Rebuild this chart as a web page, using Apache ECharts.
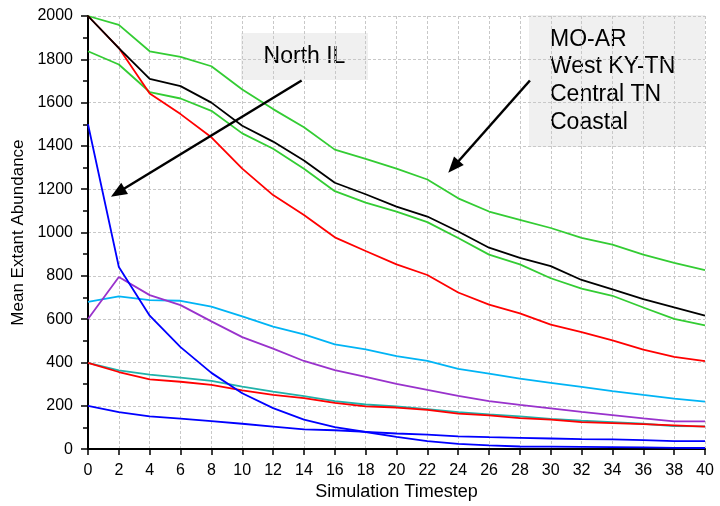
<!DOCTYPE html>
<html>
<head>
<meta charset="utf-8">
<title>Mean Extant Abundance</title>
<script src="https://cdn.jsdelivr.net/npm/echarts@6/dist/echarts.min.js"></script>
<style>
  html, body { margin: 0; padding: 0; background: #ffffff; }
  #chart { width: 720px; height: 506px; }
</style>
</head>
<body>
<div id="chart"></div>
<script>
// Simulation timesteps (x axis)
const timesteps = [0, 2, 4, 6, 8, 10, 12, 14, 16, 18, 20, 22, 24, 26, 28, 30, 32, 34, 36, 38, 40];

// Mean extant abundance per population trajectory
const greenHigh = [2000, 1959, 1837, 1811, 1768, 1661, 1570, 1486, 1383, 1340, 1295, 1245, 1158, 1097, 1059, 1021, 975, 944, 898, 860, 827];
const blackLine = [2000, 1852, 1710, 1676, 1600, 1493, 1420, 1333, 1230, 1177, 1120, 1074, 1005, 930, 883, 845, 781, 738, 693, 654, 616];
const greenLow  = [1837, 1776, 1649, 1619, 1562, 1458, 1387, 1295, 1191, 1138, 1097, 1048, 975, 898, 853, 789, 741, 708, 654, 601, 571];
const redHigh   = [2000, 1852, 1642, 1547, 1440, 1295, 1173, 1081, 978, 915, 853, 804, 723, 667, 627, 575, 540, 502, 459, 426, 406];
const cyanLine  = [680, 705, 688, 685, 658, 613, 566, 530, 484, 460, 429, 407, 370, 349, 325, 306, 287, 268, 250, 233, 219];
const purpleLine= [601, 795, 711, 665, 590, 517, 464, 407, 365, 333, 301, 273, 246, 222, 204, 188, 172, 157, 142, 128, 128];
const tealLine  = [398, 364, 344, 330, 315, 288, 265, 245, 222, 206, 197, 185, 171, 160, 151, 140, 131, 125, 117, 106, 105];
const redLow    = [398, 356, 322, 311, 297, 271, 250, 235, 213, 197, 192, 181, 164, 156, 143, 136, 125, 120, 115, 110, 104];
const blueFast  = [1500, 841, 616, 471, 352, 258, 189, 136, 101, 79, 56, 37, 24, 17, 12, 11, 10, 9, 8, 6, 5];
const blueSlow  = [200, 171, 151, 141, 129, 117, 104, 91, 87, 80, 72, 67, 59, 55, 52, 49, 46, 45, 41, 37, 37];

// Y axis tick values
const yTicks = [0, 200, 400, 600, 800, 1000, 1200, 1400, 1600, 1800, 2000];

// Callout texts and arrow endpoints (data coordinates: [timestep, abundance])
const calloutNorth = 'North IL';
const calloutSouth = ['MO-AR', 'West KY-TN', 'Central TN', 'Coastal'];
const arrowNorth = [[13.85, 1702], [1.93, 1185]];
const arrowSouth = [[28.65, 1702], [23.70, 1304]];

const FONT = '"Liberation Sans", Arial, sans-serif';

function pairs(values) {
  return timesteps.map((t, i) => [t, values[i]]);
}

function lineSeries(name, values, color) {
  return {
    name: name,
    type: 'line',
    data: pairs(values),
    showSymbol: false,
    symbol: 'none',
    animation: false,
    lineStyle: { color: color, width: 1.8 },
    itemStyle: { color: color },
    z: 3
  };
}

function arrowSeries(name, ends) {
  return {
    name: name,
    type: 'line',
    data: [],
    animation: false,
    markLine: {
      silent: true,
      animation: false,
      symbol: ['none', 'triangle'],
      symbolSize: [13, 16],
      label: { show: false },
      lineStyle: { color: '#000000', width: 2.5, type: 'solid' },
      emphasis: { disabled: true },
      data: [[{ coord: ends[0] }, { coord: ends[1] }]]
    },
    z: 6
  };
}

const chart = echarts.init(document.getElementById('chart'), null, { renderer: 'canvas' });

chart.setOption({
  backgroundColor: '#ffffff',
  animation: false,
  textStyle: { fontFamily: FONT },
  grid: { left: 88, right: 15, top: 16, bottom: 53, containLabel: false },
  xAxis: {
    type: 'value',
    min: timesteps[0],
    max: timesteps[timesteps.length - 1],
    interval: 2,
    name: 'Simulation Timestep',
    nameLocation: 'middle',
    nameGap: 33,
    nameTextStyle: { color: '#000000', fontSize: 18, fontFamily: FONT },
    axisLine: { show: true, onZero: false, lineStyle: { color: '#000000', width: 2 } },
    axisTick: { show: true, length: 6, lineStyle: { color: '#000000', width: 1.5 } },
    axisLabel: { color: '#000000', fontSize: 16, fontFamily: FONT, margin: 13 },
    splitLine: { show: true, lineStyle: { color: '#c8c8c8', type: [3, 2], width: 1 } }
  },
  yAxis: {
    type: 'value',
    min: yTicks[0],
    max: yTicks[yTicks.length - 1],
    interval: 200,
    name: 'Mean Extant Abundance',
    nameLocation: 'middle',
    nameGap: 55,
    nameRotate: 90,
    nameTextStyle: { color: '#000000', fontSize: 17, fontFamily: FONT },
    axisLine: { show: true, lineStyle: { color: '#000000', width: 2 } },
    axisTick: { show: true, length: 7, lineStyle: { color: '#000000', width: 1.5 } },
    minorTick: { show: true, splitNumber: 2, length: 5, lineStyle: { color: '#000000', width: 1.5 } },
    axisLabel: { color: '#000000', fontSize: 16, fontFamily: FONT, margin: 15, formatter: (v) => String(v) },
    splitLine: { show: true, lineStyle: { color: '#c8c8c8', type: [3, 2], width: 1 } }
  },
  series: [
    lineSeries('Green upper', greenHigh, '#33cc33'),
    lineSeries('Green lower', greenLow, '#33cc33'),
    lineSeries('Red upper', redHigh, '#ff0000'),
    lineSeries('Black', blackLine, '#000000'),
    lineSeries('Cyan', cyanLine, '#00b4f5'),
    lineSeries('Purple', purpleLine, '#9932cc'),
    lineSeries('Teal', tealLine, '#20b2aa'),
    lineSeries('Red lower', redLow, '#ff0000'),
    lineSeries('Blue slow', blueSlow, '#0000ff'),
    lineSeries('Blue fast', blueFast, '#0000ff'),
    arrowSeries('Arrow north', arrowNorth),
    arrowSeries('Arrow south', arrowSouth)
  ],
  graphic: [
    {
      type: 'group',
      left: 241, top: 33, z: 10,
      children: [
        { type: 'rect', shape: { x: 0, y: 0, width: 127, height: 47 }, style: { fill: '#f0f0f0' } },
        {
          type: 'text', x: 63.5, y: 24,
          style: { text: calloutNorth, fill: '#000000', font: '23px ' + FONT, align: 'center', verticalAlign: 'middle' }
        }
      ]
    },
    {
      type: 'group',
      left: 529, top: 15, z: 10,
      children: [
        { type: 'rect', shape: { x: 0, y: 0, width: 176, height: 132 }, style: { fill: '#f0f0f0' } },
        {
          type: 'text', x: 21, y: 10.5,
          style: { text: calloutSouth.join('\n'), fill: '#000000', font: '23px ' + FONT, lineHeight: 27.7, align: 'left', verticalAlign: 'top' }
        }
      ]
    }
  ]
});
</script>
</body>
</html>
